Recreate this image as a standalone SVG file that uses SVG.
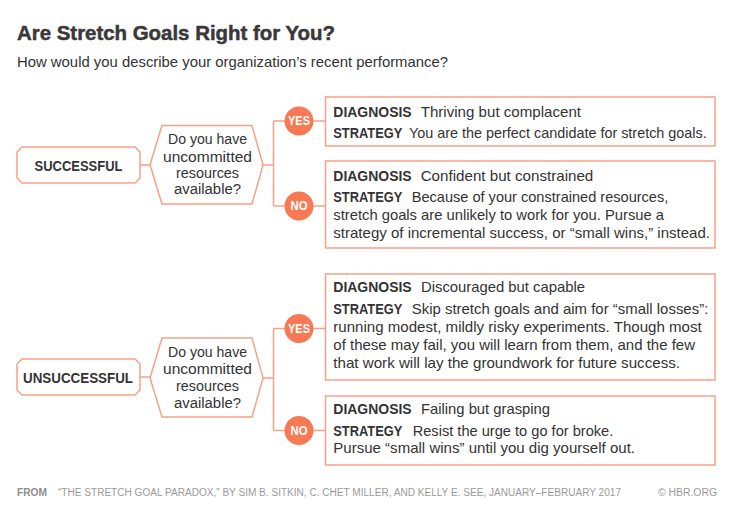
<svg xmlns="http://www.w3.org/2000/svg" width="738" height="518" viewBox="0 0 738 518">
<style>
.bg{fill:#ffffff}
.title{font-family:"Liberation Sans",Arial,sans-serif;font-weight:700;font-size:21px;fill:#3a3839;stroke:#3a3839;stroke-width:0.5}
.sub{font-family:"Liberation Sans",Arial,sans-serif;font-size:15px;fill:#333333}
.box{fill:#ffffff;stroke:#F8A186;stroke-width:1.5}
.conn{fill:none;stroke:#F8A186;stroke-width:1.5}
.circ{fill:#F77A55}
.ctext{font-family:"Liberation Sans",Arial,sans-serif;font-weight:700;font-size:12px;fill:#ffffff;text-anchor:middle}
.lab{font-family:"Liberation Sans",Arial,sans-serif;font-weight:700;font-size:14px;fill:#333333;text-anchor:middle}
.q{font-family:"Liberation Sans",Arial,sans-serif;font-size:15.5px;fill:#333333;text-anchor:middle}
.b{font-family:"Liberation Sans",Arial,sans-serif;font-weight:700;font-size:14px;fill:#333333}
.t{font-family:"Liberation Sans",Arial,sans-serif;font-size:14.5px;fill:#333333}
.foot{font-family:"Liberation Sans",Arial,sans-serif;font-size:10px;fill:#9a9a9a}
.footb{font-family:"Liberation Sans",Arial,sans-serif;font-weight:700;font-size:10px;fill:#8e8e8e}
</style>
<rect class="bg" x="0" y="0" width="738" height="518"/>
<text class="title" x="17" y="40" textLength="318" lengthAdjust="spacingAndGlyphs">Are Stretch Goals Right for You?</text>
<text class="sub" x="17" y="67" textLength="431" lengthAdjust="spacingAndGlyphs">How would you describe your organization’s recent performance?</text>

<g id="connectors">
<path class="conn" d="M140,165 H150"/>
<path class="conn" d="M263,165 H273.5 M273.5,121 V206 M273.5,121 H299 M273.5,206 H299 M299,121 H325.5 M299,206 H325.5"/>
<path class="conn" d="M140,377 H150"/>
<path class="conn" d="M263,378 H273.5 M273.5,328.5 V430.5 M273.5,328.5 H299 M273.5,430.5 H299 M299,328.5 H325.5 M299,430.5 H325.5"/>
</g>

<g id="successful">
<polygon class="box" points="22,147 135,147 140,152 140,178 135,183 22,183 17,178 17,152"/>
<text class="lab" x="78.5" y="171" textLength="88" lengthAdjust="spacingAndGlyphs">SUCCESSFUL</text>
</g>
<g id="q1">
<polygon class="box" points="150,165 162,125.5 252,125.5 263,165 252,204 162,204"/>
<text class="q" x="207.5" y="144.3" textLength="79" lengthAdjust="spacingAndGlyphs">Do you have</text>
<text class="q" x="207.5" y="161.5" textLength="89" lengthAdjust="spacingAndGlyphs">uncommitted</text>
<text class="q" x="207.5" y="177.8" textLength="63" lengthAdjust="spacingAndGlyphs">resources</text>
<text class="q" x="207.5" y="194" textLength="67" lengthAdjust="spacingAndGlyphs">available?</text>
</g>
<g id="yes1">
<circle class="circ" cx="299" cy="121" r="14.5"/>
<text class="ctext" x="299" y="125.3" textLength="22" lengthAdjust="spacingAndGlyphs">YES</text>
</g>
<g id="no1">
<circle class="circ" cx="299" cy="206" r="14.5"/>
<text class="ctext" x="299" y="210.3" textLength="17" lengthAdjust="spacingAndGlyphs">NO</text>
</g>
<g id="box1">
<rect class="box" x="325.5" y="97" width="389.5" height="49"/>
<text class="b" x="333.3" y="116.7" textLength="78.4" lengthAdjust="spacingAndGlyphs">DIAGNOSIS</text>
<text class="t" x="420.7" y="116.7" textLength="160.3" lengthAdjust="spacingAndGlyphs">Thriving but complacent</text>
<text class="b" x="333.3" y="138" textLength="69" lengthAdjust="spacingAndGlyphs">STRATEGY</text>
<text class="t" x="409" y="138" textLength="297.7" lengthAdjust="spacingAndGlyphs">You are the perfect candidate for stretch goals.</text>
</g>
<g id="box2">
<rect class="box" x="325.5" y="161" width="389.5" height="87"/>
<text class="b" x="333.3" y="180.7" textLength="78.4" lengthAdjust="spacingAndGlyphs">DIAGNOSIS</text>
<text class="t" x="420.7" y="180.7" textLength="172.6" lengthAdjust="spacingAndGlyphs">Confident but constrained</text>
<text class="b" x="333.3" y="202.3" textLength="69" lengthAdjust="spacingAndGlyphs">STRATEGY</text>
<text class="t" x="411.7" y="202.3" textLength="256.6" lengthAdjust="spacingAndGlyphs">Because of your constrained resources,</text>
<text class="t" x="333.3" y="220" textLength="330.7" lengthAdjust="spacingAndGlyphs">stretch goals are unlikely to work for you. Pursue a</text>
<text class="t" x="333.3" y="237.5" textLength="376.7" lengthAdjust="spacingAndGlyphs">strategy of incremental success, or “small wins,” instead.</text>
</g>

<g id="unsuccessful">
<polygon class="box" points="22,359 135,359 140,364 140,390 135,395 22,395 17,390 17,364"/>
<text class="lab" x="78" y="383" textLength="110" lengthAdjust="spacingAndGlyphs">UNSUCCESSFUL</text>
</g>
<g id="q2">
<polygon class="box" points="150,378 162,338 252,338 263,378 252,417 162,417"/>
<text class="q" x="207.5" y="357.3" textLength="79" lengthAdjust="spacingAndGlyphs">Do you have</text>
<text class="q" x="207.5" y="374.3" textLength="89" lengthAdjust="spacingAndGlyphs">uncommitted</text>
<text class="q" x="207.5" y="390.7" textLength="63" lengthAdjust="spacingAndGlyphs">resources</text>
<text class="q" x="207.5" y="407.5" textLength="67" lengthAdjust="spacingAndGlyphs">available?</text>
</g>
<g id="yes2">
<circle class="circ" cx="299" cy="328.5" r="14.5"/>
<text class="ctext" x="299" y="332.8" textLength="22" lengthAdjust="spacingAndGlyphs">YES</text>
</g>
<g id="no2">
<circle class="circ" cx="299" cy="430.5" r="14.5"/>
<text class="ctext" x="299" y="434.8" textLength="17" lengthAdjust="spacingAndGlyphs">NO</text>
</g>
<g id="box3">
<rect class="box" x="325.5" y="274" width="389.5" height="106"/>
<text class="b" x="333.3" y="292.3" textLength="78.4" lengthAdjust="spacingAndGlyphs">DIAGNOSIS</text>
<text class="t" x="421" y="292.3" textLength="164" lengthAdjust="spacingAndGlyphs">Discouraged but capable</text>
<text class="b" x="333.3" y="314.3" textLength="69" lengthAdjust="spacingAndGlyphs">STRATEGY</text>
<text class="t" x="411.7" y="314.3" textLength="296.6" lengthAdjust="spacingAndGlyphs">Skip stretch goals and aim for “small losses”:</text>
<text class="t" x="333.3" y="332" textLength="368.4" lengthAdjust="spacingAndGlyphs">running modest, mildly risky experiments. Though most</text>
<text class="t" x="333.3" y="350" textLength="361.7" lengthAdjust="spacingAndGlyphs">of these may fail, you will learn from them, and the few</text>
<text class="t" x="333.3" y="368" textLength="346.7" lengthAdjust="spacingAndGlyphs">that work will lay the groundwork for future success.</text>
</g>
<g id="box4">
<rect class="box" x="325.5" y="396" width="389.5" height="69"/>
<text class="b" x="333.3" y="414" textLength="78.4" lengthAdjust="spacingAndGlyphs">DIAGNOSIS</text>
<text class="t" x="421" y="414" textLength="129" lengthAdjust="spacingAndGlyphs">Failing but grasping</text>
<text class="b" x="333.3" y="435.7" textLength="69" lengthAdjust="spacingAndGlyphs">STRATEGY</text>
<text class="t" x="412.7" y="435.7" textLength="200.6" lengthAdjust="spacingAndGlyphs">Resist the urge to go for broke.</text>
<text class="t" x="333.3" y="453.3" textLength="301.7" lengthAdjust="spacingAndGlyphs">Pursue “small wins” until you dig yourself out.</text>
</g>

<g id="footer">
<text class="footb" x="17" y="496" textLength="30" lengthAdjust="spacingAndGlyphs">FROM</text>
<text class="foot" x="58" y="496" textLength="563" lengthAdjust="spacingAndGlyphs">“THE STRETCH GOAL PARADOX,” BY SIM B. SITKIN, C. CHET MILLER, AND KELLY E. SEE, JANUARY–FEBRUARY 2017</text>
<text class="foot" x="658" y="496" textLength="59" lengthAdjust="spacingAndGlyphs">© HBR.ORG</text>
</g>
</svg>
